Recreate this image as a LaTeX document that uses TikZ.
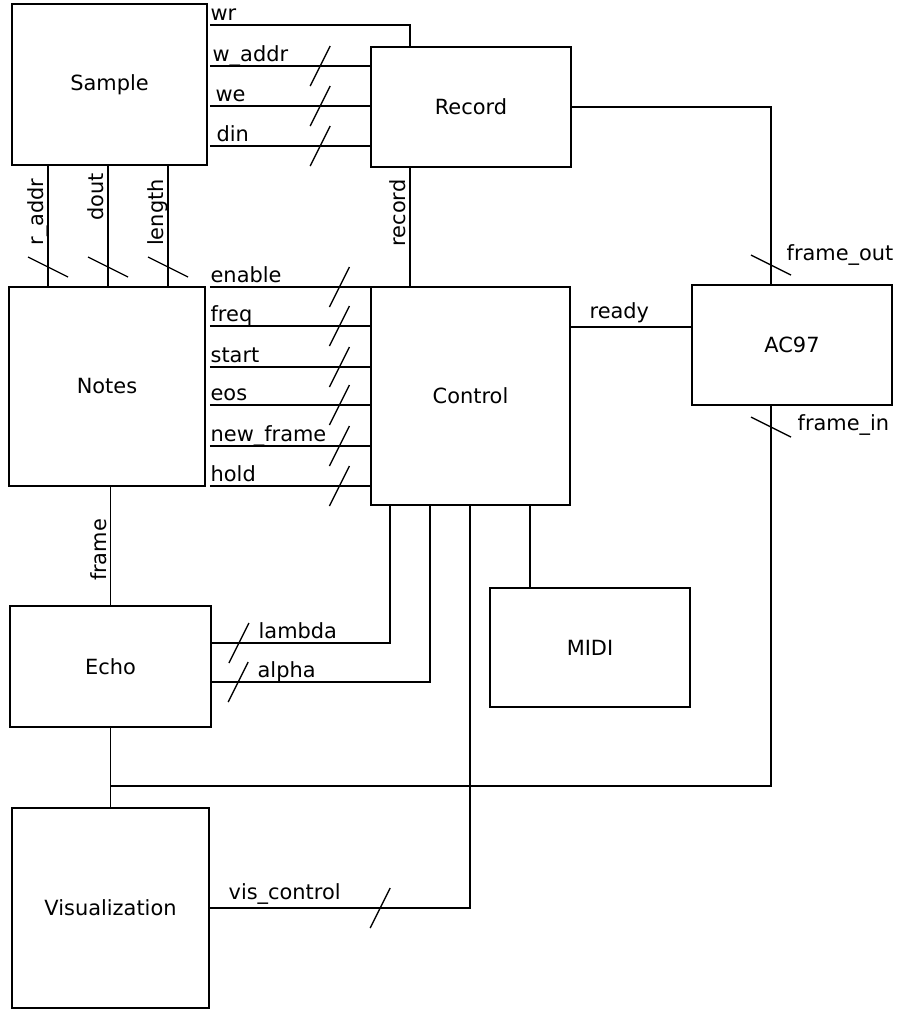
\documentclass[tikz,border=0pt]{standalone}
\usepackage{fontspec}
\setmainfont{DejaVu Sans}
\usetikzlibrary{calc}

\begin{document}
\begin{tikzpicture}[
  x=0.02cm, y=-0.02cm, line width=0.75pt,
  block/.style={
    rectangle, draw, inner sep=0pt, outer sep=0pt,
    font=\fontsize{11.9}{14}\selectfont
  },
  lbl/.style={
    anchor=base west, inner sep=0pt, yshift=0.1cm,
    font=\fontsize{11.9}{14}\selectfont
  },
  rotlbl/.style={
    rotate=90, anchor=south, text depth=0pt, inner sep=2pt,
    font=\fontsize{11.9}{14}\selectfont
  },
  hbus/.pic={\draw[shorten <=0pt] (-10,20) -- (10,-20);},
  vbus/.pic={\draw[shorten <=0pt] (-20,-10) -- (20,10);}
]
\useasboundingbox (0,0) rectangle (899,1009);

%% ===============================================
%% Bloques
%% ===============================================
\node[block, minimum width=3.9cm, minimum height=3.22cm]
  (sample) at (109.5,84.5) {Sample};
\node[block, minimum width=4cm, minimum height=2.4cm]
  (record) at (471,107) {Record};
\node[block, minimum width=3.92cm, minimum height=3.98cm]
  (notes) at (107,386.5) {Notes};
\node[block, minimum width=3.98cm, minimum height=4.36cm]
  (control) at (470.5,396) {Control};
\node[block, minimum width=4cm, minimum height=2.4cm]
  (ac97) at (792,345) {AC97};
\node[block, minimum width=4.02cm, minimum height=2.42cm]
  (echo) at (110.5,666.5) {Echo};
\node[block, minimum width=4cm, minimum height=2.38cm]
  (midi) at (590,647.5) {MIDI};
\node[block, minimum width=3.94cm, minimum height=4cm]
  (vis) at (110.5,908) {Visualization};

%% ===============================================
%% Sample -- Record
%% ===============================================
\draw[shorten <=0.06cm] (sample.east |- 0,25) -| ($(record.north west)+(39,0)$)
  node[pos=0, lbl, xshift=0.06cm] {wr};
\foreach \y/\name/\dx in {66/w\_addr/0.1, 106/we/0.16, 146/din/0.18}
  \draw[shorten <=0.06cm] (sample.east |- 0,\y) -- (record.west |- 0,\y)
    pic[pos=.69]{hbus} node[pos=0, lbl, xshift=\dx cm]{\name};

%% Sample -- Notes
\foreach \dx/\name/\p in {36/r\_addr/.385, 96/dout/.26, 156/length/.39}{
  \path ($(sample.south west)+(\dx,0)$) coordinate (t);
  \draw (t) -- (t |- notes.north)
    pic[pos=.836]{vbus} node[pos=\p, rotlbl]{\name};
}

%% Notes -- Control
\foreach \y/\name in {287/enable, 326/freq, 367/start, 405/eos,
                      446/new\_frame, 486/hold}
  \draw[shorten <=0.1cm] (notes.east |- 0,\y) -- (control.west |- 0,\y)
    pic[pos=.81]{hbus} node[pos=0, lbl, xshift=0.1cm]{\name};

%% Record -- Control
\draw ($(record.south west)+(39,0)$) -- ($(control.north west)+(39,0)$)
  node[pos=.383, rotlbl]{record};

%% Control -- AC97
\draw (control.east |- 0,327) -- (ac97.west |- 0,327)
  node[pos=0, lbl, xshift=0.38cm, yshift=0.08cm]{ready};

%% Record -- AC97
\draw (record.east) -| ($(ac97.north west)+(79,0)$)
  pic[pos=.944]{vbus} node[pos=.944, lbl, xshift=0.3cm]{frame\_out};

%% Notes -- Echo -- Visualization
\draw (notes.south -| echo.north) -- (echo.north)
  node[pos=.533, rotlbl]{frame};
\draw (echo.south) -- (vis.north);

%% AC97 -- Echo/Visualization
\draw ($(ac97.south west)+(79,0)$) |- (echo.south |- 0,786)
  pic[pos=.029]{vbus}
  node[pos=.029, lbl, xshift=0.52cm, yshift=-0.16cm]{frame\_in};

%% Echo -- Control
\draw (echo.east |- 0,643) -| ($(control.south west)+(19,0)$)
  pic[pos=.078]{hbus} node[pos=0, lbl, xshift=0.94cm]{lambda};
\draw (echo.east |- 0,682) -| ($(control.south west)+(59,0)$)
  pic[pos=.062]{hbus} node[pos=0, lbl, xshift=0.92cm]{alpha};

%% Visualization -- Control
\draw (vis.east) -| ($(control.south west)+(99,0)$)
  pic[pos=.328]{hbus}
  node[pos=0, lbl, xshift=0.38cm, yshift=0.08cm]{vis\_control};

%% MIDI -- Control
\draw ($(midi.north west)+(40,0)$) -- ($(control.south west)+(159,0)$);

\end{tikzpicture}
\end{document}
